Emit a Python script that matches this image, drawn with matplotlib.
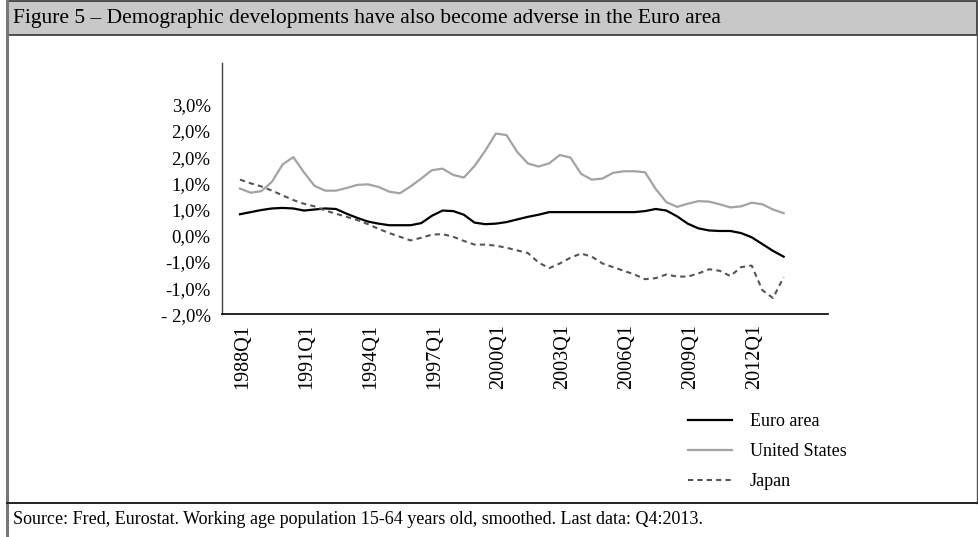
import numpy as np
import matplotlib.pyplot as plt
from matplotlib.lines import Line2D
from matplotlib.patches import Rectangle

# semi-annual readings (Q1 and Q3), 1988Q1 .. 2013Q3
quarters = [f"{y}Q{q}" for y in range(1988, 2014) for q in (1, 3)]

euro = [-0.09, -0.05, -0.01, 0.02, 0.03, 0.02, -0.02, 0.00, 0.02, 0.01,
        -0.08, -0.16, -0.23, -0.27, -0.30, -0.30, -0.30, -0.26, -0.12, -0.02,
        -0.03, -0.10, -0.25, -0.28, -0.27, -0.24, -0.19, -0.14, -0.10, -0.05,
        -0.05, -0.05, -0.05, -0.05, -0.05, -0.05, -0.05, -0.05, -0.03, 0.01,
        -0.02, -0.13, -0.27, -0.36, -0.40, -0.41, -0.41, -0.45, -0.53, -0.66,
        -0.79, -0.90]

us = [0.40, 0.32, 0.35, 0.53, 0.86, 1.00, 0.71, 0.45, 0.36, 0.36,
      0.41, 0.47, 0.48, 0.43, 0.34, 0.31, 0.44, 0.59, 0.75, 0.78,
      0.66, 0.61, 0.83, 1.12, 1.45, 1.42, 1.10, 0.88, 0.82, 0.88,
      1.04, 0.99, 0.68, 0.57, 0.59, 0.70, 0.73, 0.73, 0.71, 0.39,
      0.14, 0.05, 0.11, 0.16, 0.15, 0.10, 0.04, 0.06, 0.13, 0.10,
      0.00, -0.07]

japan = [0.57, 0.50, 0.44, 0.36, 0.27, 0.18, 0.11, 0.06, -0.02, -0.08,
         -0.14, -0.20, -0.28, -0.37, -0.45, -0.52, -0.59, -0.54, -0.48, -0.47,
         -0.52, -0.60, -0.67, -0.67, -0.69, -0.73, -0.78, -0.83, -1.01, -1.12,
         -1.03, -0.92, -0.84, -0.90, -1.03, -1.10, -1.17, -1.24, -1.33, -1.31,
         -1.24, -1.28, -1.28, -1.22, -1.14, -1.17, -1.27, -1.10, -1.07, -1.54,
         -1.69, -1.29]

yticks = [-2.0, -1.5, -1.0, -0.5, 0.0, 0.5, 1.0, 1.5, 2.0]
ylabels = ["- 2,0%", "-1,0%", "-1,0%", "0,0%", "1,0%", "1,0%", "2,0%", "2,0%", "3,0%"]
xtick_labels = ["1988Q1", "1991Q1", "1994Q1", "1997Q1", "2000Q1",
                "2003Q1", "2006Q1", "2009Q1", "2012Q1"]

plt.rcParams['font.family'] = ['Liberation Serif', 'DejaVu Serif']

W, H = 979, 537
fig = plt.figure(figsize=(W / 100, H / 100), dpi=100)


def box(x0, y0, x1, y1):
    # pixel box (top-left origin) -> figure fraction rect
    return [x0 / W, 1 - y1 / H, (x1 - x0) / W, (y1 - y0) / H]


# frame and header
fig.patches.append(Rectangle((7 / W, 1 - 35 / H), (977 - 7) / W, 34 / H,
                             transform=fig.transFigure, facecolor='#c8c8c8',
                             edgecolor='#333333', lw=1.2))
fig.add_artist(Line2D([7 / W, 7 / W], [0, 1 - 1 / H], color='#777777', lw=2.2))
fig.add_artist(Line2D([977 / W, 977 / W], [1 - 503 / H, 1 - 1 / H], color='#555555', lw=1.0))
fig.add_artist(Line2D([7 / W, 1], [1 - 503 / H, 1 - 503 / H], color='#222222', lw=1.4))
fig.text(13 / W, 1 - 18 / H, "Figure 5 – Demographic developments have also become adverse in the Euro area",
         fontsize=15.5, va='center', ha='left')
fig.text(13 / W, 1 - 520 / H,
         "Source: Fred, Eurostat. Working age population 15-64 years old, smoothed. Last data: Q4:2013.",
         fontsize=13, va='center', ha='left')

ax = fig.add_axes(box(221.7, 63, 827.7, 314.3))
x = np.arange(len(quarters)) * 2

ax.plot(x, euro, color='black', lw=1.6, label='Euro area', solid_joinstyle='round')
ax.plot(x, us, color='#a3a3a3', lw=1.6, label='United States', solid_joinstyle='round')
ax.plot(x, japan, color='#555555', lw=1.5, ls=(0, (2.5, 2)), label='Japan')

ax.set_xlim(-3.43, 110.26)
ax.set_ylim(-2.0, 2.796)
ax.set_yticks(yticks)
ax.set_yticklabels(ylabels, fontsize=13.5)
ax.set_xticks(np.arange(len(xtick_labels)) * 12 + 0.6)
ax.set_xticklabels(xtick_labels, rotation=90, fontsize=14.5)
ax.tick_params(axis='both', length=0)
ax.tick_params(axis='y', pad=8)
ax.tick_params(axis='x', pad=7)
for s in ['top', 'right']:
    ax.spines[s].set_visible(False)
ax.spines['left'].set_color('#444444')
ax.spines['left'].set_linewidth(1.0)
ax.spines['bottom'].set_linewidth(1.2)

ax.legend(loc='upper left', bbox_to_anchor=(672 / W, 1 - 397 / H),
          bbox_transform=fig.transFigure, frameon=False, fontsize=13,
          handlelength=2.4, handletextpad=1.0, labelspacing=0.72)

fig.savefig('out.png', dpi=100)
